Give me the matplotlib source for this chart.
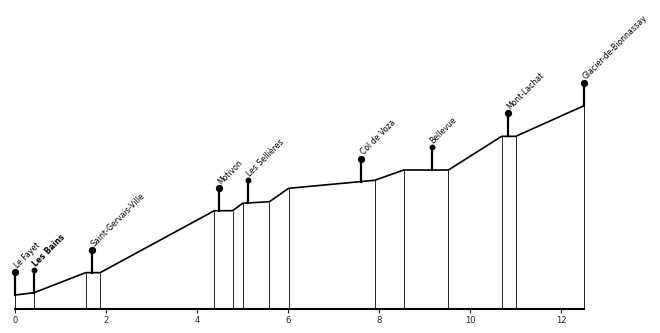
import numpy as np
import matplotlib
matplotlib.use('Agg')
import matplotlib.pyplot as plt

# Track profile: distance (km) and altitude (m) at each break point
profile_km = [0, 0.42, 1.55, 1.87, 4.38, 4.78, 5.00, 5.59, 6.01, 7.90, 8.54, 9.52, 10.69, 11.00, 12.50]
profile_alt = [584, 606, 795, 795, 1380, 1380, 1450, 1465, 1591, 1667, 1764, 1764, 2082, 2082, 2371]

# Stations along the line
station_names = ['Le Fayet', 'Les Bains', 'Saint-Gervais-Ville', 'Motivon', 'Les Sellières',
                 'Col de Voza', 'Bellevue', 'Mont-Lachat', 'Glacier-de-Bionnassay']
station_km = [0, 0.42, 1.70, 4.49, 5.12, 7.61, 9.15, 10.83, 12.50]
station_major = [True, False, True, True, False, True, False, True, True]

base_alt = 452
top_alt = 3369
stem = 217

fig = plt.figure(figsize=(6.6, 3.33), dpi=100, facecolor='white')
ax = fig.add_axes([15 / 660, 24 / 333, 569 / 660, 309 / 333])

# vertical lines under each break point
ax.vlines(profile_km, base_alt, profile_alt, color='#222222', lw=0.7, zorder=1, clip_on=False)

# the profile itself
ax.plot(profile_km, profile_alt, color='black', lw=1.2, zorder=2, clip_on=False)

# station stems, dots and labels
station_alt = np.interp(station_km, profile_km, profile_alt)
for name, km, alt, major in zip(station_names, station_km, station_alt, station_major):
    ax.plot([km, km], [alt, alt + stem], color='black', lw=1.6, zorder=3, clip_on=False)
    ax.plot(km, alt + stem, 'o', color='black', markersize=4.2 if major else 3.2,
            zorder=4, clip_on=False)
    ax.annotate(name, (km, alt + stem), xytext=(1.6, 2.2), textcoords='offset points',
                rotation=45, rotation_mode='anchor', ha='left', va='baseline',
                fontsize=5.6, color='black',
                fontweight='bold' if name == 'Les Bains' else 'normal')

ax.set_xlim(0, 12.5)
ax.set_ylim(base_alt, top_alt)
ax.set_xticks([0, 2, 4, 6, 8, 10, 12])
ax.tick_params(axis='x', labelsize=6, length=3, width=0.8, pad=2, colors='#222222')
ax.set_yticks([])
for s in ['top', 'right', 'left']:
    ax.spines[s].set_visible(False)
ax.spines['bottom'].set_linewidth(1.5)
ax.patch.set_alpha(0)

fig.savefig('out.png', dpi=100, facecolor='white')
